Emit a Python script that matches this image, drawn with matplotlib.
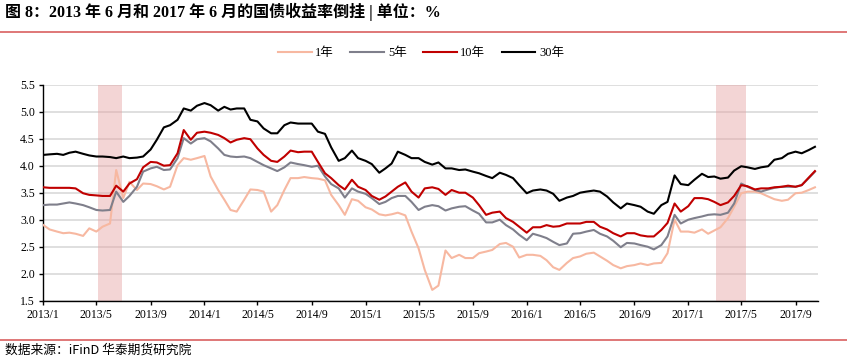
import matplotlib
matplotlib.use('Agg')
import matplotlib.pyplot as plt
from matplotlib.lines import Line2D
import pandas as pd

# semi-monthly samples, 2013/1 .. 2017/10
dates = pd.date_range('2013-01-01', periods=116, freq='SMS')

y1 = [2.90, 2.82, 2.78, 2.75, 2.76, 2.74, 2.70, 2.84, 2.78, 2.87, 2.93,
      3.92, 3.40, 3.70, 3.55, 3.67, 3.66, 3.62, 3.56, 3.61, 4.01,
      4.14, 4.11, 4.14, 4.18, 3.80, 3.55, 3.37, 3.18, 3.15,
      3.37, 3.56, 3.55, 3.52, 3.15, 3.27, 3.55, 3.77, 3.77, 3.79,
      3.77, 3.76, 3.73, 3.46, 3.27, 3.09, 3.38, 3.35, 3.23, 3.19,
      3.10, 3.08, 3.10, 3.13, 3.08, 2.78, 2.47, 2.07, 1.70, 1.78,
      2.43, 2.29, 2.35, 2.29, 2.29, 2.38, 2.41, 2.44, 2.55, 2.57,
      2.50, 2.30, 2.35, 2.35, 2.33, 2.25, 2.12, 2.07, 2.20, 2.29,
      2.32, 2.37, 2.39, 2.32, 2.24, 2.16, 2.10, 2.14, 2.16, 2.19,
      2.16, 2.19, 2.20, 2.38, 3.00, 2.78, 2.78, 2.76, 2.82, 2.74,
      2.80, 2.86, 3.03, 3.24, 3.49, 3.52, 3.52, 3.49, 3.43, 3.38,
      3.35, 3.37, 3.49, 3.50, 3.55, 3.60]

y5 = [3.27, 3.28, 3.28, 3.30, 3.32, 3.30, 3.27, 3.23, 3.18, 3.17, 3.18,
      3.52, 3.33, 3.44, 3.61, 3.89, 3.95, 3.98, 3.92, 3.93, 4.14,
      4.51, 4.41, 4.49, 4.51, 4.45, 4.32, 4.20, 4.17, 4.16,
      4.17, 4.14, 4.07, 4.01, 3.95, 3.90, 3.97, 4.06, 4.03, 4.01,
      3.98, 4.00, 3.80, 3.66, 3.58, 3.41, 3.58, 3.52, 3.48, 3.40,
      3.29, 3.33, 3.40, 3.44, 3.44, 3.33, 3.18, 3.24, 3.27, 3.25,
      3.17, 3.21, 3.24, 3.25, 3.17, 3.11, 2.95, 2.95, 3.00, 2.90,
      2.82, 2.72, 2.62, 2.74, 2.70, 2.66, 2.59, 2.53, 2.56, 2.74,
      2.75, 2.78, 2.81, 2.74, 2.69, 2.61, 2.49, 2.57, 2.56, 2.53,
      2.50, 2.45, 2.53, 2.69, 3.09, 2.93, 3.00, 3.03, 3.06, 3.09,
      3.10, 3.09, 3.13, 3.30, 3.67, 3.61, 3.55, 3.52, 3.56, 3.59,
      3.61, 3.61, 3.61, 3.64, 3.77, 3.89]

y10 = [3.60, 3.59, 3.59, 3.59, 3.59, 3.58, 3.49, 3.46, 3.45, 3.44, 3.44,
       3.63, 3.52, 3.67, 3.75, 3.97, 4.07, 4.06, 4.00, 4.01, 4.23,
       4.66, 4.48, 4.61, 4.63, 4.61, 4.57, 4.51, 4.43, 4.48,
       4.51, 4.49, 4.32, 4.20, 4.09, 4.07, 4.17, 4.28, 4.25, 4.26,
       4.26, 4.07, 3.86, 3.77, 3.64, 3.56, 3.74, 3.61, 3.55, 3.44,
       3.37, 3.43, 3.52, 3.61, 3.69, 3.52, 3.41, 3.58, 3.60, 3.57,
       3.46, 3.55, 3.50, 3.50, 3.41, 3.27, 3.09, 3.13, 3.15, 3.03,
       2.96, 2.87, 2.76, 2.86, 2.86, 2.90, 2.87, 2.88, 2.93, 2.93,
       2.93, 2.96, 2.96, 2.87, 2.82, 2.75, 2.69, 2.75, 2.75, 2.71,
       2.69, 2.69, 2.81, 2.94, 3.30, 3.15, 3.25, 3.40, 3.40, 3.38,
       3.33, 3.27, 3.32, 3.44, 3.64, 3.62, 3.56, 3.58, 3.58, 3.60,
       3.61, 3.63, 3.61, 3.64, 3.78, 3.90]

y30 = [4.20, 4.21, 4.22, 4.20, 4.24, 4.26, 4.22, 4.19, 4.17, 4.17, 4.16,
       4.14, 4.17, 4.14, 4.15, 4.17, 4.30, 4.48, 4.71, 4.75, 4.85,
       5.06, 5.02, 5.11, 5.16, 5.12, 5.02, 5.09, 5.04, 5.06,
       5.06, 4.85, 4.82, 4.69, 4.60, 4.60, 4.75, 4.80, 4.78, 4.78,
       4.78, 4.63, 4.59, 4.34, 4.09, 4.14, 4.28, 4.14, 4.09, 4.03,
       3.87, 3.95, 4.04, 4.26, 4.20, 4.14, 4.14, 4.07, 4.02, 4.06,
       3.95, 3.95, 3.92, 3.93, 3.89, 3.86, 3.81, 3.77, 3.87, 3.83,
       3.77, 3.64, 3.49, 3.54, 3.56, 3.54, 3.48, 3.35, 3.41, 3.44,
       3.50, 3.52, 3.54, 3.52, 3.43, 3.32, 3.21, 3.30, 3.27, 3.24,
       3.15, 3.11, 3.27, 3.33, 3.82, 3.66, 3.64, 3.74, 3.85, 3.79,
       3.80, 3.76, 3.78, 3.91, 3.99, 3.97, 3.94, 3.97, 3.99, 4.11,
       4.14, 4.22, 4.26, 4.23, 4.29, 4.35]

series_names = ['1年', '5年', '10年', '30年']
series_colors = ['#f7b8a1', '#7f7f8b', '#c00000', '#000000']

shade_periods = [('2013-05-05', '2013-06-28'), ('2017-03-05', '2017-05-12')]

tick_dates = pd.date_range('2013-01-01', '2017-09-01', freq='4MS')
tick_labels = [f'{d.year}/{d.month}' for d in tick_dates]

title = '图 8：2013 年 6 月和 2017 年 6 月的国债收益率倒挂 | 单位：%'
source = '数据来源：iFinD 华泰期货研究院'

serif_cjk = ['Liberation Serif', 'Noto Sans CJK SC']

fig = plt.figure(figsize=(8.47, 3.61), dpi=100)
ax = fig.add_axes([0.0512, 0.167, 0.9146, 0.5984])

for start, end in shade_periods:
    ax.axvspan(pd.Timestamp(start), pd.Timestamp(end), facecolor='#e6a3a3',
               alpha=0.45, lw=0, zorder=1)

for vals, name, col in zip([y1, y5, y10, y30], series_names, series_colors):
    ax.plot(dates, vals, color=col, lw=1.5, label=name, zorder=3)

ax.set_ylim(1.5, 5.5)
ax.set_yticks([1.5, 2.0, 2.5, 3.0, 3.5, 4.0, 4.5, 5.0, 5.5])
ax.set_yticklabels([f'{v:.1f}' for v in ax.get_yticks()])
ax.set_xlim(pd.Timestamp('2013-01-01'), pd.Timestamp('2017-10-22'))
ax.set_xticks(tick_dates)
ax.set_xticklabels(tick_labels)

ax.yaxis.grid(True, color='#d9d9d9', lw=1.2)
ax.set_axisbelow(True)
for s in ['top', 'right']:
    ax.spines[s].set_visible(False)
for s in ['left', 'bottom']:
    ax.spines[s].set_linewidth(1.0)
ax.tick_params(axis='both', direction='out', length=3, width=1, pad=3)
for lab in ax.get_xticklabels() + ax.get_yticklabels():
    lab.set_family(serif_cjk)
    lab.set_fontsize(8.5)

fig.legend(loc='center', bbox_to_anchor=(0.497, 0.853), ncol=4, frameon=False,
           prop={'family': serif_cjk, 'size': 9}, handlelength=2.7,
           handletextpad=0.3, columnspacing=1.3)

fig.text(0.006, 0.966, title, fontsize=11.5, fontweight='bold',
         family=serif_cjk, va='center', ha='left')
fig.add_artist(Line2D([0, 1], [0.911, 0.911], transform=fig.transFigure,
                      color='#d96060', lw=1.2))
fig.add_artist(Line2D([0, 1], [0.058, 0.058], transform=fig.transFigure,
                      color='#d96060', lw=1.2))
fig.text(0.006, 0.030, source, fontsize=9.2, family=['Noto Sans CJK SC'],
         va='center', ha='left')

fig.savefig('out.png', dpi=100)
